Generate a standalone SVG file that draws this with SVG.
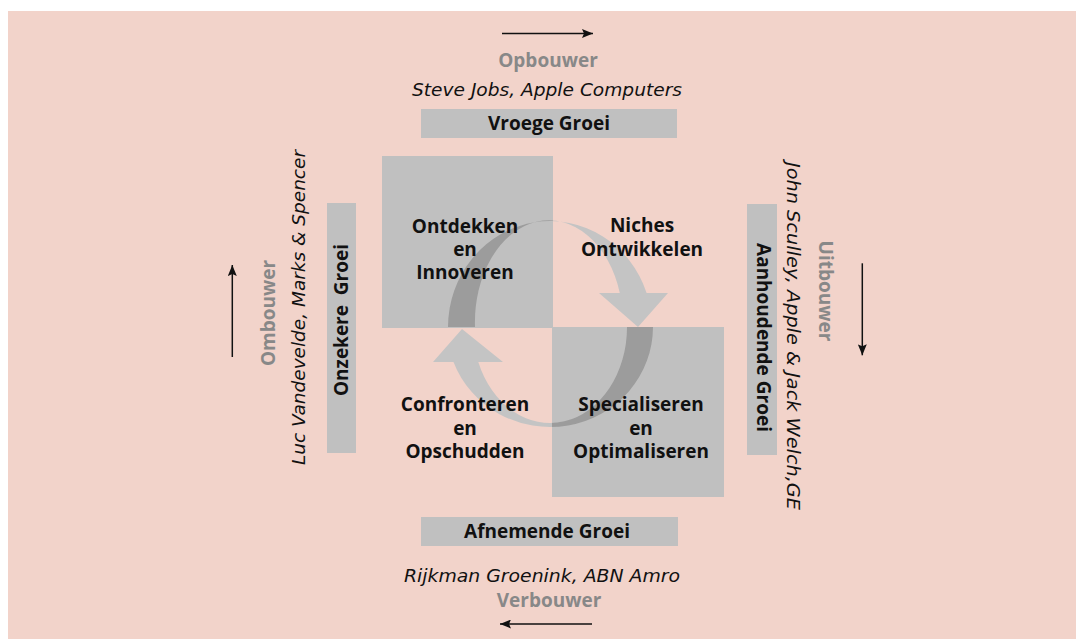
<svg xmlns="http://www.w3.org/2000/svg" width="1076" height="639" viewBox="0 0 1076 639">
<style>
.bg{fill:#F2D3CA}
.box{fill:#C0C0C0}
.lbl{font-family:"Open Sans","DejaVu Sans",sans-serif;font-weight:700;font-size:19px;fill:#111;text-anchor:middle}
.role{font-family:"Open Sans","DejaVu Sans",sans-serif;font-weight:700;font-size:19px;fill:#888;text-anchor:middle}
.name{font-family:"DejaVu Sans","Open Sans",sans-serif;font-style:italic;font-size:17.5px;fill:#111;text-anchor:middle}
.arr{stroke:#111;stroke-width:1.5;fill:none;marker-end:url(#ah)}
.cyc{fill:#C4C4C4}
.cycd{fill:#9C9C9C}
</style>
<defs>
<marker id="ah" markerUnits="userSpaceOnUse" markerWidth="11" markerHeight="9" refX="11" refY="4.5" orient="auto">
<path d="M0,0 L11,4.5 L0,9 L2,4.5 z" fill="#111"/>
</marker>
<path id="arc1" d="M448,327 A102,106 0 0 1 646.6,293 L668,293 L638,327 L599,293 L619.8,293 A74,102 0 0 0 475,327 Z"/>
<path id="arc2" d="M653,327 A103,100 0 0 1 453.5,362 L433,362 L462,329 L503,362 L478.3,362 A77,96 0 0 0 627,327 Z"/>
<clipPath id="sq">
<rect x="382" y="156" width="171" height="172"/>
<rect x="552" y="327" width="172" height="170"/>
</clipPath>
</defs>
<rect class="bg" x="8" y="11" width="1068" height="628"/>

<g id="quad-ontdekken-box">
<rect class="box" x="382" y="156" width="171" height="172"/>
</g>
<g id="quad-specialiseren-box">
<rect class="box" x="552" y="327" width="172" height="170"/>
</g>

<g id="connectors">
<use href="#arc1" class="cyc"/>
<use href="#arc2" class="cyc"/>
<g clip-path="url(#sq)">
<use href="#arc1" class="cycd"/>
<use href="#arc2" class="cycd"/>
</g>
<line class="arr" x1="502" y1="33.5" x2="593" y2="33.5"/>
<line class="arr" x1="232.3" y1="357" x2="232.3" y2="265"/>
<line class="arr" x1="862.3" y1="263.3" x2="862.3" y2="355.3"/>
<line class="arr" x1="592" y1="624" x2="500" y2="624"/>
</g>

<g id="quad-ontdekken">
<text class="lbl" x="465" y="233">Ontdekken</text>
<text class="lbl" x="465" y="256">en</text>
<text class="lbl" x="465" y="279">Innoveren</text>
</g>
<g id="quad-niches">
<text class="lbl" x="642" y="232">Niches</text>
<text class="lbl" x="642" y="256">Ontwikkelen</text>
</g>
<g id="quad-confronteren">
<text class="lbl" x="465" y="411">Confronteren</text>
<text class="lbl" x="465" y="435">en</text>
<text class="lbl" x="465" y="458">Opschudden</text>
</g>
<g id="quad-specialiseren">
<text class="lbl" x="641" y="411">Specialiseren</text>
<text class="lbl" x="641" y="435">en</text>
<text class="lbl" x="641" y="458">Optimaliseren</text>
</g>

<g id="top">
<text class="role" x="548" y="67">Opbouwer</text>
<text class="name" x="547" y="96" textLength="270" lengthAdjust="spacingAndGlyphs">Steve Jobs, Apple Computers</text>
<rect class="box" x="421" y="109" width="256" height="29"/>
<text class="lbl" x="549" y="130">Vroege Groei</text>
</g>

<g id="bottom">
<rect class="box" x="421" y="517" width="257" height="29"/>
<text class="lbl" x="547" y="538">Afnemende Groei</text>
<text class="name" x="542" y="582" textLength="276" lengthAdjust="spacingAndGlyphs">Rijkman Groenink, ABN Amro</text>
<text class="role" x="549" y="607">Verbouwer</text>
</g>

<g id="left">
<text class="role" transform="translate(275,313) rotate(-90)">Ombouwer</text>
<text class="name" transform="translate(305,307.5) rotate(-90)" textLength="315" lengthAdjust="spacingAndGlyphs">Luc Vandevelde, Marks &amp; Spencer</text>
<rect class="box" x="327" y="203" width="29" height="250"/>
<text class="lbl" transform="translate(348,320) rotate(-90)" xml:space="preserve" style="white-space:pre">Onzekere  Groei</text>
</g>

<g id="right">
<rect class="box" x="747" y="204" width="30" height="251"/>
<text class="lbl" transform="translate(757,337.5) rotate(90)">Aanhoudende Groei</text>
<text class="name" transform="translate(787,336) rotate(90)" textLength="348" lengthAdjust="spacingAndGlyphs">John Sculley, Apple &amp; Jack Welch,GE</text>
<text class="role" transform="translate(819,291) rotate(90)">Uitbouwer</text>
</g>
</svg>
